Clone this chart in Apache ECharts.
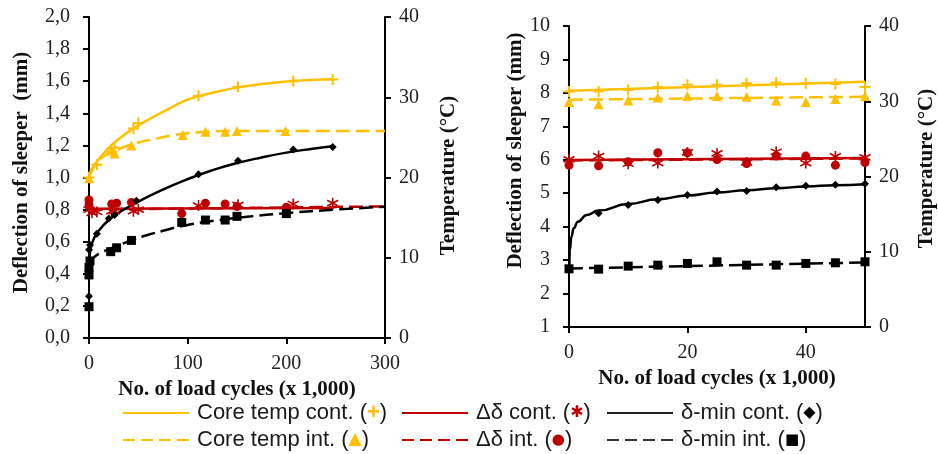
<!DOCTYPE html>
<html>
<head>
<meta charset="utf-8">
<script src="https://cdn.jsdelivr.net/npm/echarts@6/dist/echarts.min.js"></script>
<style>
  html, body { margin: 0; padding: 0; background: #fff; }
  #chart { width: 938px; height: 454px; }
</style>
</head>
<body>
<div id="chart"></div>
<script>
// ---- Panel A: long-duration test, load cycles 0–300 (x 1,000) ----
// Temperatures in °C (right axis), deflections in mm (left axis). [cycles, value]
const aTempContPts = [[0, 20.0], [8, 21.6], [23, 23.2], [26, 23.7], [45, 26.1], [50, 26.8], [111, 30.2], [151, 31.3], [207, 32.0], [247, 32.2]];
const aTempContFit = [[0, 20.0], [5, 21.3], [10, 22.3], [20, 23.7], [30, 24.8], [45, 26.1], [60, 27.2], [80, 28.5], [100, 29.7], [125, 30.55], [150, 31.2], [175, 31.65], [200, 31.97], [225, 32.16], [248, 32.25]];
const aTempIntPts = [[0, 19.9], [23, 23.4], [26, 23.0], [43, 24.0], [95, 25.3], [118, 25.7], [138, 25.7], [150, 25.8], [199, 25.8]];
const aTempIntFit = [[0, 20.3], [5, 21.5], [12, 22.4], [24, 23.2], [43, 24.1], [70, 24.9], [92, 25.4], [120, 25.7], [150, 25.8], [200, 25.8], [300, 25.8]];
const aDdContPts = [[0, 0.80], [3, 0.78], [8, 0.785], [23, 0.79], [26, 0.79], [45, 0.79], [50, 0.80], [111, 0.825], [151, 0.83], [207, 0.835], [247, 0.84]];
const aDdContFit = [[0, 0.805], [248, 0.81]];
const aDdIntPts = [[0, 0.86], [0, 0.83], [23, 0.835], [28, 0.84], [43, 0.845], [94, 0.775], [118, 0.84], [138, 0.835], [150, 0.82], [200, 0.815]];
const aDdIntFit = [[0, 0.80], [300, 0.82]];
const aMinContPts = [[0, 0.26], [0, 0.55], [1, 0.58], [8, 0.65], [20, 0.745], [26, 0.766], [48, 0.855], [111, 1.02], [151, 1.105], [207, 1.175], [247, 1.19]];
const aMinContFit = [[0.5, 0.50], [2, 0.565], [5, 0.62], [10, 0.67], [20, 0.735], [30, 0.78], [50, 0.85], [75, 0.925], [100, 0.99], [125, 1.045], [150, 1.09], [175, 1.125], [200, 1.155], [225, 1.178], [247, 1.195]];
const aMinIntPts = [[0, 0.195], [0, 0.393], [0, 0.44], [1, 0.48], [22, 0.538], [28, 0.562], [43, 0.608], [94, 0.72], [118, 0.735], [138, 0.735], [150, 0.758], [200, 0.775]];
const aMinIntFit = [[1, 0.46], [3, 0.488], [6, 0.508], [12, 0.53], [21, 0.555], [30, 0.578], [45, 0.613], [60, 0.643], [75, 0.668], [94, 0.697], [120, 0.725], [160, 0.755], [200, 0.778], [250, 0.8], [300, 0.818]];

// ---- Panel B: short test, load cycles 0–50 (x 1,000) ----
const bTempContPts = [[0, 31.3], [5, 31.3], [10, 31.5], [15, 31.9], [20, 32.2], [25, 32.2], [30, 32.4], [35, 32.5], [40, 32.4], [45, 32.3], [50, 31.9]];
const bTempContFit = [[0, 31.4], [50, 32.6]];
const bTempIntPts = [[0, 29.9], [5, 29.6], [10, 30.1], [15, 30.5], [20, 30.7], [25, 30.7], [30, 30.6], [35, 30.1], [40, 29.9], [45, 30.3], [50, 30.7]];
const bTempIntFit = [[0, 30.2], [50, 30.6]];
const bDdContPts = [[0, 6.01], [5, 6.11], [10, 5.88], [15, 5.90], [20, 6.22], [25, 6.19], [30, 5.92], [35, 6.24], [40, 5.90], [45, 6.10], [50, 6.07]];
const bDdContFit = [[0, 5.99], [50, 6.05]];
const bDdIntPts = [[0, 5.84], [5, 5.82], [10, 5.94], [15, 6.21], [20, 6.21], [25, 6.01], [30, 5.89], [35, 6.11], [40, 6.11], [45, 5.84], [50, 5.92]];
const bDdIntFit = [[0, 5.98], [50, 6.04]];
const bMinContPts = [[0, 2.75], [5, 4.40], [10, 4.65], [15, 4.80], [20, 4.95], [25, 5.05], [30, 5.07], [35, 5.18], [40, 5.22], [45, 5.25], [50, 5.28]];
const bMinContFit = [[0.05, 2.75], [0.15, 3.3], [0.4, 3.7], [0.8, 3.95], [1.5, 4.15], [3, 4.35], [5, 4.48], [10, 4.68], [15, 4.82], [20, 4.93], [25, 5.02], [30, 5.09], [35, 5.15], [40, 5.2], [45, 5.24], [50, 5.27]];
const bMinIntPts = [[0, 2.74], [5, 2.73], [10, 2.82], [15, 2.85], [20, 2.90], [25, 2.95], [30, 2.85], [35, 2.85], [40, 2.90], [45, 2.92], [50, 2.95]];
const bMinIntFit = [[0, 2.75], [50, 2.93]];

// Legend entries
const legendLabels = ['Core temp cont.', 'Δδ cont.', 'δ-min cont.', 'Core temp int.', 'Δδ int.', 'δ-min int.'];
const legendMarks = ['+', '✱', '◆', '▲', '●', '■'];

// Axis titles
const xTitle = 'No. of load cycles (x 1,000)';
const yTitleA = 'Deflection of sleeper  (mm)';
const yTitleB = 'Deflection of sleeper (mm)';
const tTitle = 'Temperature (°C)';

const YEL = '#FFC000';
const RED = '#C00000';
const BLK = '#000000';
const SERIF = '"Liberation Serif", "Times New Roman", serif';
const SANS = '"Liberation Sans", Arial, sans-serif';

const PLUS = 'path://M5,0 L5,10 M0,5 L10,5';
const STAR = 'path://M5,0 L5,10 M0.8,2.4 L9.2,7.6 M0.8,7.6 L9.2,2.4';

function fitLine(name, data, xi, yi, color, dashed, monotone) {
  return {
    type: 'line', name, data, xAxisIndex: xi, yAxisIndex: yi,
    symbol: 'none', smooth: 0.5, smoothMonotone: monotone ? 'x' : null, silent: true, z: 2,
    lineStyle: { color, width: 2.5, type: dashed ? [14, 6] : 'solid' }
  };
}
function marks(name, data, xi, yi, symbol, size, color, stroke) {
  return {
    type: 'scatter', name, data, xAxisIndex: xi, yAxisIndex: yi,
    symbol, symbolSize: size, silent: true, z: 3,
    itemStyle: stroke ? { color, borderColor: color, borderWidth: stroke, opacity: 1 } : { color, opacity: 1 }
  };
}
function panelSeries(xi, yDef, yTemp, s, steepStart) {
  return [
    fitLine('Core temp cont.', s.tcF, xi, yTemp, YEL, false),
    fitLine('Core temp int.', s.tiF, xi, yTemp, YEL, true),
    fitLine('Δδ cont.', s.dcF, xi, yDef, RED, false),
    fitLine('Δδ int.', s.diF, xi, yDef, RED, true),
    fitLine('δ-min cont.', s.mcF, xi, yDef, BLK, false, steepStart),
    fitLine('δ-min int.', s.miF, xi, yDef, BLK, true),
    marks('Core temp cont. pts', s.tcP, xi, yTemp, PLUS, 11, YEL, 2),
    marks('Core temp int. pts', s.tiP, xi, yTemp, 'triangle', 10, YEL),
    marks('Δδ cont. pts', s.dcP, xi, yDef, STAR, 11, RED, 1.6),
    marks('Δδ int. pts', s.diP, xi, yDef, 'circle', 9, RED),
    marks('δ-min cont. pts', s.mcP, xi, yDef, 'diamond', 8, BLK),
    marks('δ-min int. pts', s.miP, xi, yDef, 'rect', 9, BLK)
  ];
}

const axisLine = { show: true, onZero: false, lineStyle: { color: '#000', width: 2 } };
const axisTick = { show: true, inside: false, length: 6, lineStyle: { color: '#000', width: 2 } };
const labelStyle = { color: '#222', fontFamily: SERIF, fontSize: 20 };
const nameStyle = { color: '#111', fontFamily: SERIF, fontSize: 21, fontWeight: 'bold' };

function xAxis(gi, max, interval) {
  return {
    type: 'value', gridIndex: gi, min: 0, max, interval,
    name: xTitle, nameLocation: 'middle', nameGap: 39, nameTextStyle: nameStyle,
    axisLine, axisTick, splitLine: { show: false },
    axisLabel: Object.assign({ margin: 16, showMaxLabel: max % interval === 0 }, labelStyle)
  };
}
function yAxis(gi, pos, min, max, interval, name, gap, pad, fmt) {
  return {
    type: 'value', gridIndex: gi, position: pos, min, max, interval,
    name, nameLocation: 'middle', nameGap: gap,
    nameTextStyle: Object.assign({ padding: pad }, nameStyle),
    axisLine, axisTick, splitLine: { show: false },
    axisLabel: Object.assign({ margin: pos === 'left' ? 19 : 14, formatter: fmt }, labelStyle)
  };
}

// Legend drawn as two rows of three entries
const colX = [123, 402, 607];
const rowY = [413, 440];
const markRich = [
  { fill: YEL, fontFamily: SANS, fontSize: 22, fontWeight: 'bold' },
  { fill: RED, fontFamily: '"DejaVu Sans"', fontSize: 16 },
  { fill: BLK, fontFamily: '"DejaVu Sans"', fontSize: 16 },
  { fill: YEL, fontFamily: '"DejaVu Sans"', fontSize: 17 },
  { fill: RED, fontFamily: '"DejaVu Sans"', fontSize: 15 },
  { fill: BLK, fontFamily: '"DejaVu Sans"', fontSize: 15 }
];
const lineColors = [YEL, RED, '#222', YEL, RED, '#333'];
const legendGraphics = [];
legendLabels.forEach((lab, i) => {
  const x = colX[i % 3];
  const y = rowY[Math.floor(i / 3)];
  const dashed = i >= 3;
  legendGraphics.push({
    type: 'line', silent: true,
    shape: { x1: x, y1: y, x2: x + 66, y2: y },
    style: { stroke: lineColors[i], lineWidth: 2, lineDash: dashed ? [12, 6] : null }
  });
  legendGraphics.push({
    type: 'text', silent: true, x: x + 74, y,
    style: {
      text: lab + ' ({m|' + legendMarks[i] + '})',
      fill: '#1a1a1a', font: '22px ' + SANS, verticalAlign: 'middle', align: 'left',
      rich: { m: markRich[i] }
    }
  });
});

const chart = echarts.init(document.getElementById('chart'), null, { renderer: 'canvas' });
chart.setOption({
  animation: false,
  backgroundColor: '#fff',
  grid: [
    { left: 89, top: 17, width: 296, height: 321 },
    { left: 569, top: 26, width: 297, height: 301 }
  ],
  xAxis: [xAxis(0, 300, 100), xAxis(1, 50, 20)],
  yAxis: [
    yAxis(0, 'left', 0, 2, 0.2, yTitleA, 57, [0, 0, 0, 10], v => v.toFixed(1).replace('.', ',')),
    yAxis(0, 'right', 0, 40, 10, tTitle, 53, [0, 0, 0, 4], v => String(v)),
    yAxis(1, 'left', 1, 10, 1, yTitleB, 40, [0, 0, 0, 52], v => String(v)),
    yAxis(1, 'right', 0, 40, 10, tTitle, 51, [0, 0, 0, 16], v => String(v))
  ],
  series: [].concat(
    panelSeries(0, 0, 1, {
      tcF: aTempContFit, tiF: aTempIntFit, dcF: aDdContFit, diF: aDdIntFit, mcF: aMinContFit, miF: aMinIntFit,
      tcP: aTempContPts, tiP: aTempIntPts, dcP: aDdContPts, diP: aDdIntPts, mcP: aMinContPts, miP: aMinIntPts
    }, false),
    panelSeries(1, 2, 3, {
      tcF: bTempContFit, tiF: bTempIntFit, dcF: bDdContFit, diF: bDdIntFit, mcF: bMinContFit, miF: bMinIntFit,
      tcP: bTempContPts, tiP: bTempIntPts, dcP: bDdContPts, diP: bDdIntPts, mcP: bMinContPts, miP: bMinIntPts
    }, true)
  ),
  graphic: legendGraphics
});
</script>
</body>
</html>
